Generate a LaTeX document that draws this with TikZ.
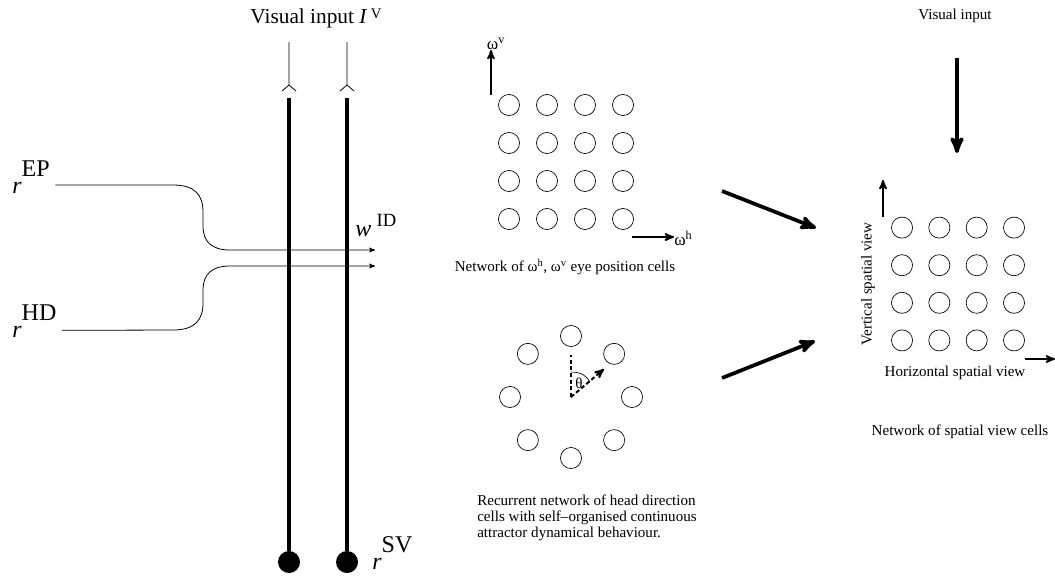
\documentclass[tikz,border=0pt]{standalone}
\usepackage{fontspec}
\setmainfont{Liberation Serif}
\usetikzlibrary{arrows,matrix,positioning}

\newcommand{\bigtxt}{\fontsize{16}{18}\selectfont}
\newcommand{\ratetxt}{\fontsize{18}{20}\selectfont}
\newcommand{\smalltxt}{\fontsize{11.3}{12}\selectfont}
\newcommand{\axistxt}{\fontsize{13}{13}\selectfont}
\newcommand{\upidx}[1]{\raisebox{0.7em}{#1}}

\begin{document}
\begin{tikzpicture}[x=0.75pt,y=-0.75pt,>=stealth',
  cell/.style={draw,circle,minimum size=15.8pt,inner sep=0pt,line width=0.5pt},
  fibre/.style={line width=0.6pt},
  axon/.style={line width=3pt},
  bigarrow/.style={->,line width=2.8pt},
  axis/.style={->,line width=1.4pt},
  lbl/.style={font=\smalltxt,inner sep=0pt},
  axlbl/.style={font=\axistxt,inner sep=0pt},
  biglbl/.style={font=\bigtxt,inner sep=0pt},
  ratelbl/.style={font=\ratetxt,inner sep=0pt,anchor=base west},
  soma/.style={circle,fill,minimum size=16.5pt,inner sep=0pt}]

\useasboundingbox (0,0) rectangle (1055,576);

% visual input fibres onto the spatial view cells
\node[biglbl] (vis) at (316,18) {Visual input \textit{I}\,\raisebox{.45ex}{\fontsize{11}{11}\selectfont V}};
\coordinate (inA) at (289,42);
\coordinate (inB) at (347,42);
\coordinate (synA) at (289,85);
\coordinate (synB) at (347,85);
\coordinate (dendA) at (289,98);
\coordinate (dendB) at (347,98);
\node[soma] (svA) at (289,562) {};
\node[soma] (svB) at (347,562) {};
\node[ratelbl] (rsv) at (372,569) {\textit{r}\upidx{SV}};

\draw[fibre] (inA) -- (synA) (synA) ++(-7,6) -- (synA) -- ++(7,6);
\draw[fibre] (inB) -- (synB) (synB) ++(-7,6) -- (synB) -- ++(7,6);
\draw[axon] (dendA) -- (svA);
\draw[axon] (dendB) -- (svB);

% eye position and head direction inputs
\node[ratelbl] (rep) at (12,193) {\textit{r}\upidx{EP}};
\node[ratelbl] (rhd) at (12,337) {\textit{r}\upidx{HD}};
\node[ratelbl] (wid) at (355,236) {\textit{w}\hspace{4pt}\raisebox{0.4em}{\fontsize{14}{14}\selectfont ID}};
\coordinate (wA) at (375,250);
\coordinate (wB) at (375,266);

\draw[fibre,->] ([shift={(4pt,6pt)}]rep.base east) -- (173,185)
   .. controls (195,185) and (203,195) .. (203,212) -- (203,226)
   .. controls (203,242) and (212,250) .. (230,250) -- (wA);
\draw[fibre,->] ([shift={(4pt,5pt)}]rhd.base east) -- (173,330)
   .. controls (195,330) and (203,320) .. (203,303) -- (203,290)
   .. controls (203,274) and (212,266) .. (230,266) -- (wB);

% network of eye position cells
\matrix (eyegrid) [matrix of nodes, nodes in empty cells, nodes={cell},
  column sep={28.5pt,between origins}, row sep={28.5pt,between origins}]
  at (566,162) {
  & & & \\
  & & & \\
  & & & \\
  & & & \\
};
\node[axlbl] (wvlab) at (496,44) {ω\textsuperscript{v}};
\node[axlbl,anchor=west] (whlab) at (674,238) {ω\textsuperscript{h}};
\coordinate (wv0) at (491,95);
\coordinate (wh0) at (632,237);
\draw[axis] (wv0) -- (wv0 |- wvlab.south);
\draw[axis] (wh0) -- (wh0 -| whlab.west);
\node[lbl] (eyecap) at (565,267) {Network of ω\textsuperscript{h}, ω\textsuperscript{v} eye position cells};

% ring of head direction cells
\coordinate (hdc) at (571,397);
\foreach \a in {0,45,...,315}
  \node[cell] (hd\a) at ([shift={(\a:61)}]hdc) {};
\coordinate (hdtop) at (571,355);
\coordinate (hdtip) at (604,369);
\draw[line width=1.5pt,dash pattern=on 3pt off 2pt] (hdc) -- (hdtop);
\draw[line width=1.5pt,dash pattern=on 3pt off 2pt,->] (hdc) -- (hdtip);
\draw[line width=0.5pt] (571,372) .. controls (581,372) and (587,376) .. (590,382);
\node[lbl] (theta) at (579,383) {θ};
\node[lbl,align=left,anchor=west] (hdcap) at (477,518)
  {Recurrent network of head direction\\cells with self–organised continuous\\attractor dynamical behaviour.};

% network of spatial view cells
\coordinate (epout) at (722,191);
\coordinate (epin) at (816,228);
\coordinate (hdout) at (722,378);
\coordinate (hdin) at (815,341);
\draw[bigarrow] (epout) -- (epin);
\draw[bigarrow] (hdout) -- (hdin);

\node[lbl] (vis2) at (955,16) {Visual input};
\coordinate (vtop) at (957,58);
\coordinate (vbot) at (957,153);
\draw[bigarrow] (vtop) -- (vbot);

\matrix (svgrid) [matrix of nodes, nodes in empty cells, nodes={cell},
  column sep={28pt,between origins}, row sep={28.2pt,between origins}]
  at (958,284) {
  & & & \\
  & & & \\
  & & & \\
  & & & \\
};
\coordinate (sv0) at (883,217);
\coordinate (sv1) at (883,180);
\coordinate (sh0) at (1025,359);
\coordinate (sh1) at (1055,359);
\draw[axis] (sv0) -- (sv1);
\draw[axis] (sh0) -- (sh1);
\node[lbl,rotate=90] (vsv) at (868,284) {Vertical spatial view};
\node[lbl] (hsv) at (955,373) {Horizontal spatial view};
\node[lbl] (svcap) at (960,432) {Network of spatial view cells};

\end{tikzpicture}
\end{document}
